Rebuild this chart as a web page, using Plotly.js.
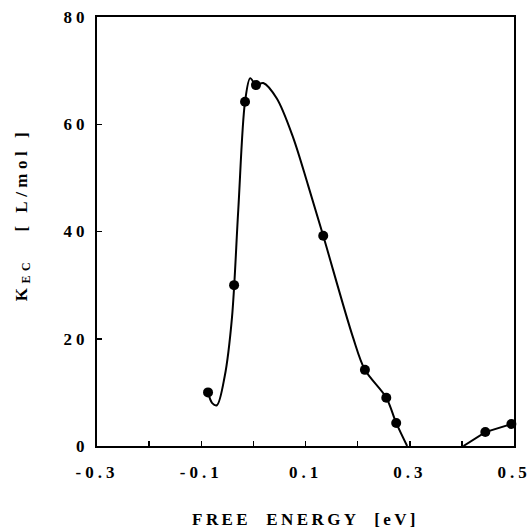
<!DOCTYPE html>
<html>
<head>
<meta charset="utf-8">
<script src="https://cdn.plot.ly/plotly-3.0.1.min.js"></script>
<style>
html,body{margin:0;padding:0;background:#fff;}
#chart{width:532px;height:529px;}
#chart .xtick text{letter-spacing:4px;}
#chart .ytick text{letter-spacing:4px;}
#chart .g-xtitle text{letter-spacing:3.4px;}
#chart .g-ytitle text{letter-spacing:4.5px;}
#chart .g-ytitle{transform:translate(0px,-17px);}
</style>
</head>
<body>
<div id="chart"></div>
<script>
// measured points
var pointX = [-0.087, -0.037, -0.016, 0.005, 0.134, 0.214, 0.255, 0.274, 0.445, 0.495];
var pointY = [10, 30, 64.2, 67.3, 39.2, 14.2, 9.0, 4.3, 2.6, 4.1];

// fitted curve (main peak)
var curveX = [-0.087, -0.079, -0.070, -0.055, -0.041, -0.029, -0.016, -0.006, 0.005, 0.019, 0.045, 0.076, 0.105, 0.134, 0.191, 0.214, 0.255, 0.274, 0.295];
var curveY = [10, 8.0, 7.6, 13, 24, 44, 64.2, 68.6, 67.3, 67.7, 64.8, 57.6, 48.6, 39.2, 20.3, 14.2, 9.0, 4.3, 0];

// tail segment
var tailX = [0.403, 0.445, 0.495];
var tailY = [0, 2.6, 4.1];

var xTickVals = [-0.3, -0.2, -0.1, 0, 0.1, 0.2, 0.3, 0.4, 0.5];
var xTickText = ['-0.3', '', '-0.1', '', '0.1', '', '0.3', '', '0.5'];
var yTickVals = [0, 20, 40, 60, 80];
var yTickText = ['0', '20', '40', '60', '80'];

var fontFam = '"Liberation Serif", "DejaVu Serif", serif';

var traces = [
  {x: curveX, y: curveY, mode: 'lines', line: {color: '#000', width: 2, shape: 'spline', smoothing: 0.9}, hoverinfo: 'skip', showlegend: false},
  {x: tailX, y: tailY, mode: 'lines', line: {color: '#000', width: 2}, hoverinfo: 'skip', showlegend: false},
  {x: pointX, y: pointY, mode: 'markers', marker: {color: '#000', size: 10}, showlegend: false, cliponaxis: false}
];

var layout = {
  width: 532, height: 529,
  margin: {l: 97, r: 18, t: 17, b: 83},
  paper_bgcolor: '#fff', plot_bgcolor: '#fff',
  font: {family: fontFam, color: '#000', size: 15},
  xaxis: {
    range: [-0.3, 0.5], tickvals: xTickVals, ticktext: xTickText,
    ticks: 'inside', ticklen: 5, tickwidth: 1.5, tickcolor: '#000',
    showline: true, mirror: true, linewidth: 2, linecolor: '#000',
    showgrid: false, zeroline: false,
    tickfont: {family: fontFam, size: 17, weight: 'bold'},
    ticklabelstandoff: 10,
    title: {text: 'FREE  ENERGY  [eV]', font: {family: fontFam, size: 17, weight: 'bold'}, standoff: 32}
  },
  yaxis: {
    range: [0, 80], tickvals: yTickVals, ticktext: yTickText,
    ticks: 'inside', ticklen: 5, tickwidth: 1.5, tickcolor: '#000',
    showline: true, mirror: true, linewidth: 2, linecolor: '#000',
    showgrid: false, zeroline: false,
    tickfont: {family: fontFam, size: 17, weight: 'bold'},
    ticklabelstandoff: 3,
    title: {text: 'K<sub>EC</sub>   [ L/mol ]', font: {family: fontFam, size: 17, weight: 'bold'}, standoff: 40}
  }
};

Plotly.newPlot('chart', traces, layout, {staticPlot: true});
</script>
</body>
</html>
